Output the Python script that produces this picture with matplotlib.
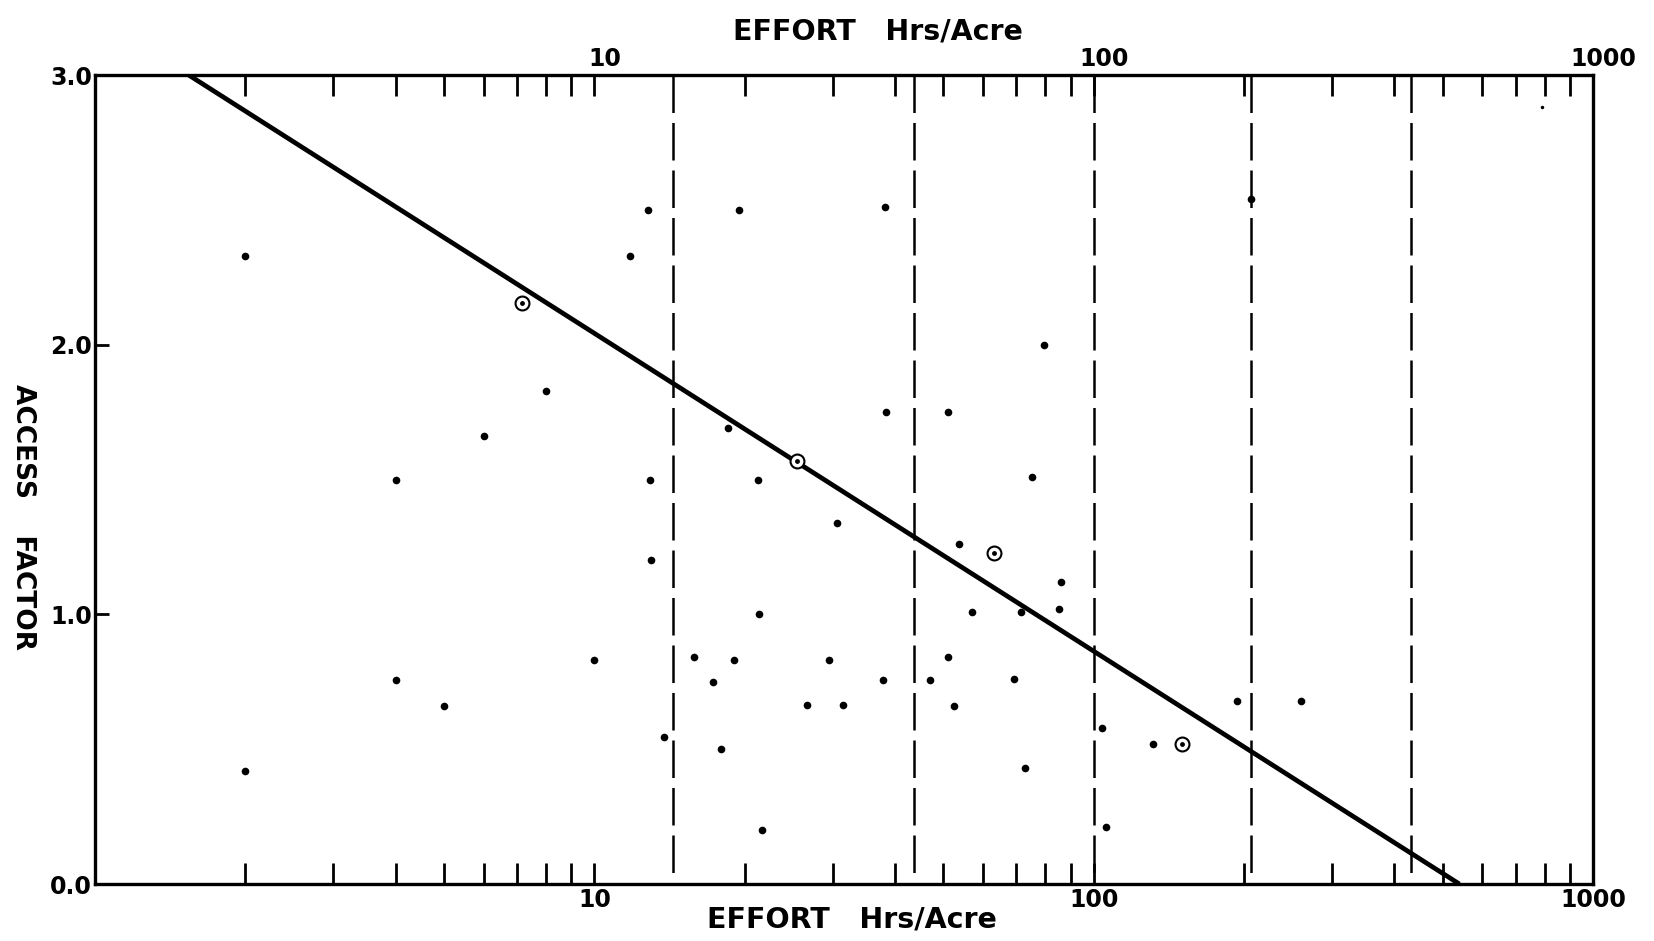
import matplotlib
matplotlib.use("Agg")
import matplotlib.pyplot as plt
import matplotlib.transforms as mtransforms
from matplotlib.ticker import FixedLocator, LogLocator, NullFormatter, FixedFormatter

# ---- data ----
dots_x = [2, 2, 4, 4, 5, 6, 8, 10,
          11.8, 12.8, 12.9, 13.0, 13.8,
          15.8, 17.3, 17.9, 18.5, 19.0, 19.5,
          21.3, 21.4, 21.7,
          26.7, 29.5, 30.6, 31.5,
          37.9, 38.2, 38.4,
          47.1, 51.2, 51.2, 52.5, 53.7, 57.0,
          69.2, 71.6, 73.0, 75.2, 79.7, 85.3, 86.1,
          104, 106, 131.6, 194, 207, 260]
dots_y = [2.33, 0.42, 1.50, 0.755, 0.66, 1.66, 1.83, 0.83,
          2.33, 2.50, 1.50, 1.20, 0.545,
          0.84, 0.75, 0.50, 1.69, 0.83, 2.50,
          1.50, 1.00, 0.20,
          0.665, 0.83, 1.34, 0.665,
          0.755, 2.51, 1.75,
          0.755, 1.75, 0.84, 0.66, 1.26, 1.01,
          0.76, 1.01, 0.43, 1.51, 2.00, 1.02, 1.12,
          0.58, 0.21, 0.52, 0.68, 2.54, 0.68]
speck_x = [790]
speck_y = [2.88]
circ_x = [7.17, 25.5, 63.1, 150]
circ_y = [2.155, 1.568, 1.228, 0.52]
fit_x = [1.54, 540]
fit_y = [3.0, 0.0]
bounds_x = [14.4, 43.6, 100, 207, 433]
xmajor = [10, 100, 1000]
xmajor_labels = ["10", "100", "1000"]
yticks = [0.0, 1.0, 2.0, 3.0]
ytick_labels = ["0.0", "1.0", "2.0", "3.0"]
x_title = "EFFORT   Hrs/Acre"
y_title = "ACCESS    FACTOR"

plt.rcParams['font.family'] = ['DejaVu Sans']

fig = plt.figure(figsize=(16.54, 9.41), dpi=100)
ax = fig.add_axes([95/1654, 1-884/941, (1593-95)/1654, (884-75)/941])

ax.set_xscale('log')
ax.set_xlim(1, 1000)
ax.set_ylim(0, 3)

# boundary dashed lines (drawn top to bottom so a dash starts at the top spine)
for b in bounds_x:
    ax.plot([b, b], [3, 0], color='black', lw=1.8, dashes=(15, 4), zorder=1)

# fitted line
ax.plot(fit_x, fit_y, color='black', lw=3.4, solid_capstyle='butt', zorder=2)

# points
ax.plot(dots_x, dots_y, 'o', color='black', ms=5.5, mew=0, zorder=3)
ax.plot(speck_x, speck_y, 'o', color='black', ms=2.5, mew=0, zorder=3)
ax.plot(circ_x, circ_y, 'o', mfc='white', mec='black', ms=10, mew=1.5, zorder=3)
ax.plot(circ_x, circ_y, 'o', color='black', ms=3.5, mew=0, zorder=4)

for s in ax.spines.values():
    s.set_linewidth(2.4)

ax.xaxis.set_major_locator(FixedLocator(xmajor))
ax.xaxis.set_major_formatter(FixedFormatter(xmajor_labels))
ax.xaxis.set_minor_locator(LogLocator(base=10, subs=[2, 3, 4, 5, 6, 7, 8, 9]))
ax.xaxis.set_minor_formatter(NullFormatter())
ax.tick_params(axis='x', which='both', direction='in', top=True, bottom=True,
               labeltop=True, labelbottom=True, length=15, width=2.0,
               labelsize=17, pad=3)

ax.set_yticks(yticks)
ax.set_yticklabels(ytick_labels)
ax.tick_params(axis='y', which='major', direction='in', length=10, width=2.0,
               labelsize=17, pad=2)

for lab in ax.get_xticklabels() + ax.get_yticklabels():
    lab.set_fontweight('bold')

# top labels sit a little right of their ticks in the reference
shift = mtransforms.ScaledTranslation(10/100, 0, fig.dpi_scale_trans)
for t in ax.xaxis.get_major_ticks():
    t.label2.set_transform(t.label2.get_transform() + shift)
    t.label2.set_fontweight('bold')

fig.text(878/1654, 1-31/941, x_title, ha='center', va='center', fontsize=20.5,
         fontweight='bold')
fig.text(852/1654, 1-920/941, x_title, ha='center', va='center', fontsize=20.5,
         fontweight='bold')
fig.text(23/1654, 1-517/941, y_title, ha='center', va='center', fontsize=19,
         fontweight='bold', rotation=-90)

fig.savefig("out.png", dpi=100)
